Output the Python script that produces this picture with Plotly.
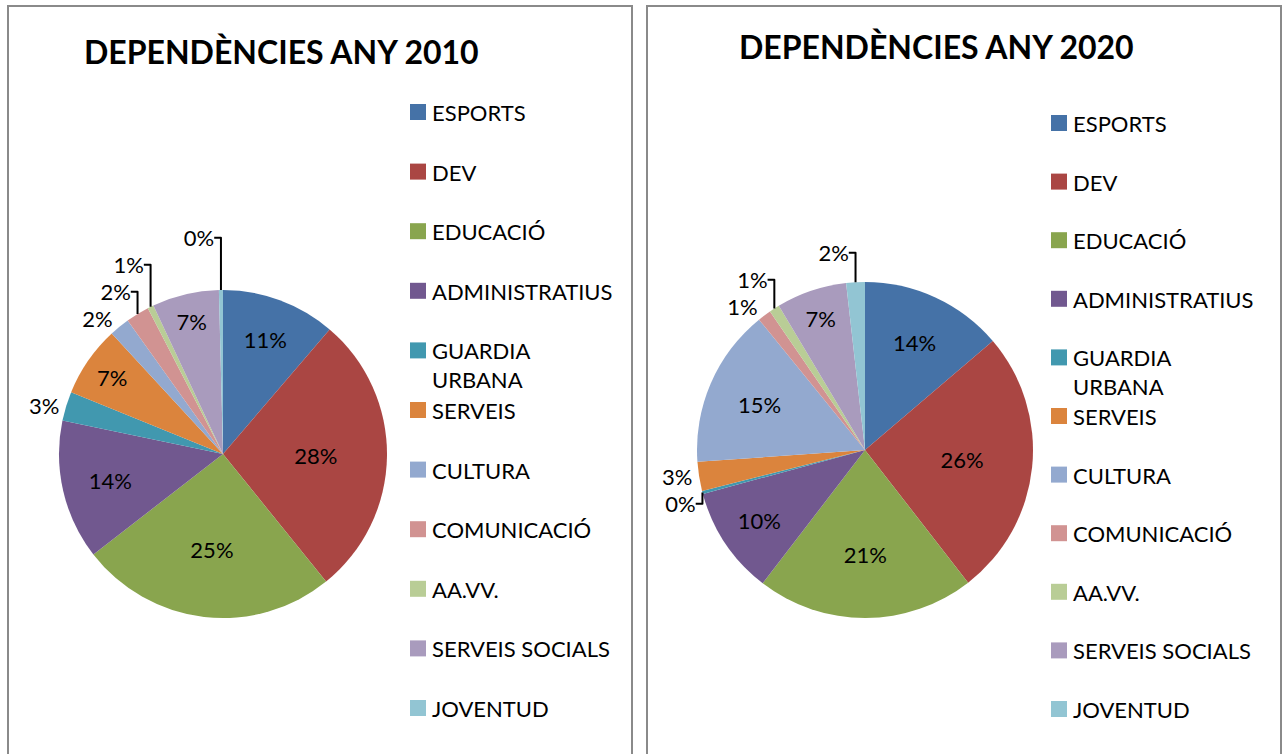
import plotly.graph_objects as go

categories = ["ESPORTS", "DEV", "EDUCACIÓ", "ADMINISTRATIUS", "GUARDIA URBANA",
              "SERVEIS", "CULTURA", "COMUNICACIÓ", "AA.VV.", "SERVEIS SOCIALS", "JOVENTUD"]
legend_labels = ["ESPORTS", "DEV", "EDUCACIÓ", "ADMINISTRATIUS", "GUARDIA<br>URBANA",
                 "SERVEIS", "CULTURA", "COMUNICACIÓ", "AA.VV.", "SERVEIS SOCIALS", "JOVENTUD"]
values_2010 = [11.3, 28.0, 25.4, 13.8, 2.9, 7.0, 2.0, 2.3, 0.6, 6.6, 0.4]
values_2020 = [13.8, 25.8, 21.0, 10.4, 0.3, 2.8, 15.3, 1.3, 1.0, 6.8, 1.8]
colors = ["#4572A7", "#AA4643", "#89A54E", "#71588F", "#4198AF", "#DB843D",
          "#93A9CF", "#D19392", "#B9CD96", "#A99BBD", "#92C5D3"]
titles = ["DEPENDÈNCIES ANY 2010", "DEPENDÈNCIES ANY 2020"]

W, H = 1282, 754
FONT = "Lato"
LABEL_SIZE = 22


def textpos(vals):
    tot = sum(vals)
    return ["inside" if v / tot >= 0.05 else "outside" for v in vals]


fig = go.Figure()
for vals, dom in [(values_2010, dict(x=[59 / W, 387 / W], y=[136 / H, 464 / H])),
                  (values_2020, dict(x=[697 / W, 1033 / W], y=[136 / H, 472 / H]))]:
    fig.add_trace(go.Pie(
        labels=categories, values=vals, sort=False, direction="clockwise", rotation=0,
        marker=dict(colors=colors, line=dict(width=0)),
        domain=dom,
        texttemplate="%{percent:.0%}", textposition=textpos(vals),
        insidetextorientation="horizontal",
        textfont=dict(family=FONT, size=LABEL_SIZE, color="black"),
        outsidetextfont=dict(family=FONT, size=LABEL_SIZE, color="black"),
        showlegend=False, hoverinfo="label+percent",
    ))

shapes = []
annotations = []

# panel borders
for x0, x1 in [(8, 632), (647, 1281)]:
    shapes.append(dict(type="rect", xref="paper", yref="paper",
                       x0=x0 / W, x1=x1 / W, y0=-0.05, y1=1 - 6 / H,
                       line=dict(color="#8a8a8a", width=2), fillcolor="rgba(0,0,0,0)"))

# titles
for t, cx, cy in [(titles[0], 281, 51), (titles[1], 936, 47)]:
    annotations.append(dict(text=f"<b>{t}</b>", x=cx / W, y=1 - cy / H, xref="paper", yref="paper",
                            showarrow=False, xanchor="center", yanchor="middle",
                            font=dict(family=FONT, size=32, color="black")))

# manual legends
for mx, y_first, step in [(410, 112, 59.6), (1051, 123, 58.6)]:
    for i, (lab, col) in enumerate(zip(legend_labels, colors)):
        yc = y_first + i * step
        shapes.append(dict(type="rect", xref="paper", yref="paper",
                           x0=mx / W, x1=(mx + 16) / W, y0=1 - (yc + 8) / H, y1=1 - (yc - 8) / H,
                           line=dict(width=0), fillcolor=col))
        annotations.append(dict(text=lab, x=(mx + 20) / W, y=1 - (yc - 15) / H,
                                xref="paper", yref="paper", showarrow=False,
                                xanchor="left", yanchor="top", align="left",
                                font=dict(family=FONT, size=LABEL_SIZE, color="black")))

fig.update_layout(
    width=W, height=H, margin=dict(l=0, r=0, t=0, b=0),
    paper_bgcolor="white", plot_bgcolor="white",
    shapes=shapes, annotations=annotations,
)

fig.write_html("out.html", config={"displayModeBar": False},
               post_script="document.body.style.margin='0';document.body.style.overflow='hidden';")
